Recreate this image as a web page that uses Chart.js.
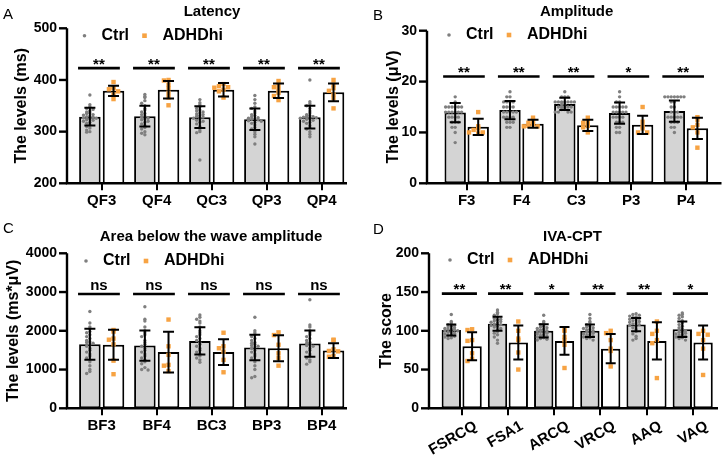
<!DOCTYPE html>
<html>
<head>
<meta charset="utf-8">
<script src="https://cdn.jsdelivr.net/npm/chart.js@4.4.1/dist/chart.umd.min.js"></script>
<style>
  body { margin: 0; background: #fff; width: 727px; height: 456px; position: relative; overflow: hidden;
         font-family: "Liberation Sans", Arial, sans-serif; }
  .panel { position: absolute; }
  .letter { position: absolute; font-size: 15px; line-height: 15px; color: #000; }
</style>
</head>
<body>
<div class="panel" style="left:0;top:0"><canvas id="chartA" width="360" height="225"></canvas></div>
<div class="panel" style="left:360px;top:0"><canvas id="chartB" width="367" height="225"></canvas></div>
<div class="panel" style="left:0;top:225px"><canvas id="chartC" width="360" height="231"></canvas></div>
<div class="panel" style="left:360px;top:225px"><canvas id="chartD" width="367" height="231"></canvas></div>
<div class="letter" style="left:3px;top:6px">A</div>
<div class="letter" style="left:373px;top:7px">B</div>
<div class="letter" style="left:3px;top:220px">C</div>
<div class="letter" style="left:373px;top:221px">D</div>
<script>
const groupNames = ['Ctrl', 'ADHDhi'];

// A - Latency (ms)
const latencyCats = ['QF3', 'QF4', 'QC3', 'QP3', 'QP4'];
const latencyCtrlMean = [329, 330, 328, 324, 328];
const latencyCtrlSd = [17, 20, 21, 21, 22];
const latencyAdhdMean = [379, 381, 381, 379, 376];
const latencyAdhdSd = [10, 17, 13, 14, 17];
const latencyCtrlPts = [
  [371, 352, 348, 345, 343, 340, 338, 336, 335, 333, 332, 330, 329, 328, 327, 326, 325, 323, 322, 320, 318, 316, 313, 310, 307, 303, 300, 299],
  [372, 368, 366, 360, 355, 350, 345, 342, 338, 335, 333, 330, 328, 326, 325, 323, 320, 318, 315, 312, 308, 305, 300, 297, 294],
  [362, 356, 352, 348, 345, 342, 340, 338, 336, 334, 333, 331, 330, 328, 326, 325, 322, 320, 318, 315, 310, 303, 300, 298, 245],
  [370, 362, 355, 348, 345, 340, 336, 333, 331, 329, 327, 326, 325, 324, 323, 321, 320, 318, 316, 313, 308, 305, 300, 295, 290, 276],
  [400, 358, 354, 350, 345, 340, 336, 333, 331, 330, 329, 328, 327, 326, 325, 324, 322, 320, 318, 316, 312, 308, 305, 300, 295, 290]
];
const latencyAdhdPts = [
  [396, 386, 384, 382, 378, 372, 363],
  [400, 399, 391, 384, 374, 366, 351],
  [392, 388, 386, 385, 381, 378, 366],
  [398, 390, 386, 382, 375, 369, 361],
  [400, 391, 384, 379, 372, 365, 345]
];
const latencySig = ['**', '**', '**', '**', '**'];

// B - Amplitude (uV)
const ampCats = ['F3', 'F4', 'C3', 'P3', 'P4'];
const ampCtrlMean = [13.9, 14.4, 15.6, 13.8, 14.2];
const ampCtrlSd = [1.9, 1.8, 1.2, 2.1, 2.1];
const ampAdhdMean = [11.1, 11.7, 11.4, 11.5, 10.8];
const ampAdhdSd = [1.6, 0.8, 1.1, 1.8, 2.1];
const ampCtrlPts = [
  [17, 16, 15, 15, 15, 15, 15, 15, 14, 14, 14, 14, 14, 14, 13, 13, 13, 13, 12, 12, 12, 11, 11, 10, 8],
  [18, 17, 17, 16, 16, 16, 16, 15, 15, 15, 15, 14, 14, 14, 14, 14, 13, 13, 13, 13, 12, 12, 12, 11, 11],
  [18, 17, 17, 17, 16, 16, 16, 16, 16, 16, 16, 15.5, 15.5, 15, 15, 15, 15, 15, 14.5, 14.5, 14, 14, 14, 14],
  [18, 17, 16, 16, 15, 15, 15, 15, 15, 14, 14, 14, 14, 14, 13, 13, 13, 13, 12, 12, 12, 11, 11, 10, 10],
  [17, 17, 17, 17, 17, 17, 17, 16, 16, 15, 15, 14, 14, 14, 13, 13, 13, 13, 13, 12, 12, 12, 11, 11, 10]
];
const ampAdhdPts = [
  [14, 11.2, 10.8, 10.5, 10, 10, 9.8],
  [12.9, 12.3, 11.9, 11.6, 11.3, 11.2, 11.2],
  [12.9, 12, 11.9, 11.3, 11, 10],
  [15, 12.1, 11.2, 10.8, 10, 10],
  [13, 12.5, 11.5, 11, 10, 7]
];
const ampSig = ['**', '**', '**', '*', '**'];

// C - Area below the wave amplitude (ms*uV)
const areaCats = ['BF3', 'BF4', 'BC3', 'BP3', 'BP4'];
const areaCtrlMean = [1650, 1620, 1740, 1570, 1670];
const areaCtrlSd = [400, 390, 350, 330, 340];
const areaAdhdMean = [1640, 1450, 1450, 1550, 1490];
const areaAdhdSd = [385, 525, 330, 335, 190];
const areaCtrlPts = [
  [2500, 2200, 2100, 2050, 1980, 1950, 1900, 1850, 1800, 1750, 1720, 1700, 1680, 1650, 1600, 1550, 1500, 1450, 1400, 1350, 1300, 1200, 1100, 1000, 950, 900],
  [2620, 2300, 2250, 2100, 2000, 1950, 1900, 1850, 1750, 1700, 1650, 1600, 1550, 1500, 1450, 1400, 1350, 1300, 1250, 1200, 1150, 1050, 1000, 990],
  [2410, 2350, 2300, 2250, 2200, 2100, 2000, 1950, 1900, 1850, 1800, 1750, 1700, 1650, 1600, 1550, 1500, 1450, 1400, 1350, 1300, 1250, 1190],
  [2350, 2000, 1950, 1900, 1850, 1800, 1750, 1700, 1680, 1650, 1620, 1600, 1580, 1550, 1500, 1450, 1400, 1350, 1300, 1200, 1100, 1000, 820, 790],
  [2800, 2150, 2100, 2000, 1950, 1900, 1850, 1800, 1750, 1700, 1680, 1650, 1620, 1600, 1550, 1500, 1450, 1400, 1350, 1300, 1250, 1200, 1140]
];
const areaAdhdPts = [
  [2020, 1980, 1800, 1770, 1650, 1230, 880],
  [2290, 1600, 1380, 1120, 1100, 960],
  [1950, 1600, 1550, 1460, 1250, 930],
  [1960, 1890, 1640, 1420, 1300, 1100],
  [1770, 1760, 1520, 1480, 1470, 1350, 1330]
];
const areaSig = ['ns', 'ns', 'ns', 'ns', 'ns'];

// D - IVA-CPT score
const ivaCats = ['FSRCQ', 'FSA1', 'ARCQ', 'VRCQ', 'AAQ', 'VAQ'];
const ivaCtrlMean = [101, 109, 100, 100, 108, 102];
const ivaCtrlSd = [7, 9, 8.5, 8, 8.5, 10];
const ivaAdhdMean = [80, 85, 87, 77, 87, 85];
const ivaAdhdSd = [18, 22, 18, 19, 24, 22];
const ivaCtrlPts = [
  [121, 112, 110, 108, 107, 106, 105, 104, 103, 102, 102, 101, 100, 100, 99, 98, 97, 96, 95, 94, 93, 92, 91, 90],
  [127, 124, 122, 120, 118, 116, 115, 114, 113, 112, 111, 110, 109, 108, 107, 106, 105, 103, 101, 99, 97, 95, 92, 88, 84],
  [120, 112, 110, 108, 106, 105, 104, 103, 102, 101, 100, 100, 99, 98, 97, 96, 95, 94, 93, 92, 91, 90, 89, 88],
  [121, 116, 112, 110, 108, 106, 105, 104, 103, 102, 101, 100, 99, 98, 97, 96, 95, 94, 93, 92, 91, 90, 88],
  [122, 121, 120, 119, 118, 117, 116, 115, 114, 113, 112, 111, 110, 109, 108, 107, 106, 104, 102, 99, 96, 93, 90, 88],
  [123, 121, 120, 118, 116, 113, 110, 108, 106, 104, 102, 101, 100, 99, 98, 97, 96, 95, 94, 93, 92, 91, 90, 88]
];
const ivaAdhdPts = [
  [102, 101, 88, 87, 71, 64, 61],
  [112, 100, 90, 88, 72, 50],
  [101, 100, 92, 88, 82, 52],
  [100, 97, 88, 77, 74, 54],
  [112, 100, 96, 88, 84, 39],
  [100, 96, 95, 88, 77, 43]
];
const ivaSig = ['**', '**', '*', '**', '**', '*'];

const FONT = '"Liberation Sans", Arial, sans-serif';
Chart.defaults.font.family = FONT;
Chart.defaults.color = '#000';

const PLOT_TOP = 28.3, PLOT_BOTTOM = 183.3;
const GRAY_DOT = '#7f7f7f', ORANGE = '#f7a343';

// side offsets (px) so that equal values don't overlap
function swarmOffsets(values, ys, stepPx, binPx, nSlots) {
  const seen = {};
  return values.map(v => {
    const b = Math.round(ys.getPixelForValue(v) / binPx);
    const c = seen[b] || 0;
    seen[b] = c + 1;
    const k = c % nSlots;
    return k === 0 ? 0 : (k % 2 ? -Math.ceil(k / 2) : Math.ceil(k / 2)) * stepPx;
  });
}

function makePanel(p) {
  const n = p.cats.length;
  const catW = (p.catRight - p.catLeft) / n;

  const decor = {
    id: 'decor',
    afterDatasetsDraw(chart) {
      const ctx = chart.ctx, xs = chart.scales.x, ys = chart.scales.y, area = chart.chartArea;
      ctx.save();

      // individual values
      const shift = catW * p.catPct / 4;
      p.ctrlPts.forEach((vals, i) => {
        const cx = xs.getPixelForValue(i) - shift;
        const offs = swarmOffsets(vals, ys, 3.2, 3, 7);
        ctx.fillStyle = GRAY_DOT;
        vals.forEach((v, k) => {
          ctx.beginPath();
          ctx.arc(cx + offs[k], ys.getPixelForValue(v), 1.7, 0, Math.PI * 2);
          ctx.fill();
        });
      });
      p.adhdPts.forEach((vals, i) => {
        const cx = xs.getPixelForValue(i) + shift;
        const offs = swarmOffsets(vals, ys, 4.6, 4.5, 5);
        ctx.fillStyle = ORANGE;
        vals.forEach((v, k) => {
          ctx.fillRect(cx + offs[k] - 2.2, ys.getPixelForValue(v) - 2.2, 4.4, 4.4);
        });
      });

      ctx.strokeStyle = '#000';
      ctx.fillStyle = '#000';

      // error bars (mean +/- SD)
      ctx.lineWidth = 2;
      [[0, p.ctrlMean, p.ctrlSd], [1, p.adhdMean, p.adhdSd]].forEach(([di, m, s]) => {
        chart.getDatasetMeta(di).data.forEach((bar, i) => {
          const t = ys.getPixelForValue(m[i] + s[i]);
          const b = ys.getPixelForValue(m[i] - s[i]);
          ctx.beginPath();
          ctx.moveTo(bar.x, t); ctx.lineTo(bar.x, b);
          ctx.moveTo(bar.x - p.cap, t); ctx.lineTo(bar.x + p.cap, t);
          ctx.moveTo(bar.x - p.cap, b); ctx.lineTo(bar.x + p.cap, b);
          ctx.stroke();
        });
      });

      // axes
      ctx.lineWidth = 2.4;
      ctx.beginPath();
      ctx.moveTo(p.axisX, area.top);
      ctx.lineTo(p.axisX, area.bottom);
      ctx.lineTo(p.axisEnd, area.bottom);
      ctx.stroke();
      ys.ticks.forEach(t => {
        const py = ys.getPixelForValue(t.value);
        ctx.beginPath();
        ctx.moveTo(p.axisX - 8, py); ctx.lineTo(p.axisX, py);
        ctx.stroke();
      });

      // significance lines
      const sigPx = ys.getPixelForValue(p.sigY);
      ctx.lineWidth = 2.6;
      ctx.textAlign = 'center';
      ctx.textBaseline = 'alphabetic';
      ctx.font = 'bold 15px ' + FONT;
      p.sig.forEach((s, i) => {
        const c = xs.getPixelForValue(i) - 0.05 * catW;
        const hw = 0.38 * catW;
        ctx.beginPath();
        ctx.moveTo(c - hw, sigPx); ctx.lineTo(c + hw, sigPx);
        ctx.stroke();
        ctx.fillText(s, c, sigPx + (s === 'ns' ? -4 : 0.5));
      });

      // title
      ctx.font = 'bold 15px ' + FONT;
      ctx.fillText(p.title, p.titleX, 15.5);

      // y axis title
      ctx.save();
      ctx.translate(p.yTitleX, (area.top + area.bottom) / 2);
      ctx.rotate(-Math.PI / 2);
      ctx.textBaseline = 'middle';
      ctx.font = 'bold 16px ' + FONT;
      ctx.fillText(p.yTitle, 0, 0);
      ctx.restore();

      // legend
      const lx = p.legendX, ly = p.legendY;
      ctx.fillStyle = GRAY_DOT;
      ctx.beginPath(); ctx.arc(lx, ly, 1.8, 0, Math.PI * 2); ctx.fill();
      ctx.fillStyle = ORANGE;
      ctx.fillRect(lx + 60 - 2.3, ly - 2.3, 4.6, 4.6);
      ctx.fillStyle = '#000';
      ctx.textAlign = 'left';
      ctx.textBaseline = 'middle';
      ctx.font = 'bold 16px ' + FONT;
      ctx.fillText(groupNames[0], lx + 17, ly);
      ctx.fillText(groupNames[1], lx + 78, ly);
      ctx.restore();
    }
  };

  const barStyle = { borderColor: '#000', borderWidth: 2, borderSkipped: false,
    categoryPercentage: p.catPct, barPercentage: p.barPct };

  new Chart(document.getElementById(p.id), {
    type: 'bar',
    data: {
      labels: p.cats,
      datasets: [
        Object.assign({ label: groupNames[0], data: p.ctrlMean, backgroundColor: '#d4d4d4' }, barStyle),
        Object.assign({ label: groupNames[1], data: p.adhdMean, backgroundColor: '#ffffff' }, barStyle)
      ]
    },
    options: {
      responsive: false,
      animation: false,
      events: [],
      layout: { padding: { left: 0, right: p.w - p.catRight, top: PLOT_TOP, bottom: 0 } },
      plugins: { legend: { display: false }, title: { display: false }, tooltip: { enabled: false } },
      scales: {
        x: {
          offset: true,
          grid: { display: true, drawOnChartArea: false, drawTicks: true, tickLength: 7,
                  color: '#000', lineWidth: 2, offset: false },
          border: { display: false },
          ticks: { font: { size: 15, weight: 'bold' }, padding: 2, autoSkip: false,
                   minRotation: p.rot, maxRotation: p.rot, labelOffset: p.labelOffset },
          afterFit(s) { s.height = p.h - PLOT_BOTTOM; }
        },
        y: {
          min: p.yMin, max: p.yMax,
          grid: { display: false, drawTicks: false },
          border: { display: false },
          ticks: { stepSize: p.yStep, font: { size: 14, weight: 'bold' },
                   padding: p.catLeft - p.axisX + 10, callback: v => String(v) },
          afterFit(s) { s.width = p.catLeft; }
        }
      }
    },
    plugins: [decor]
  });
}

makePanel({ id: 'chartA', w: 360, h: 225, cats: latencyCats,
  ctrlMean: latencyCtrlMean, ctrlSd: latencyCtrlSd, adhdMean: latencyAdhdMean, adhdSd: latencyAdhdSd,
  ctrlPts: latencyCtrlPts, adhdPts: latencyAdhdPts, sig: latencySig, sigY: 423,
  yMin: 200, yMax: 500, yStep: 100, title: 'Latency', yTitle: 'The levels (ms)',
  axisX: 67, catLeft: 74.2, catRight: 349.2, axisEnd: 347, titleX: 212, yTitleX: 21.5,
  legendX: 84.5, legendY: 35.7, catPct: 0.86, barPct: 0.91, cap: 5.5, rot: 0, labelOffset: 0 });

makePanel({ id: 'chartB', w: 367, h: 225, cats: ampCats,
  ctrlMean: ampCtrlMean, ctrlSd: ampCtrlSd, adhdMean: ampAdhdMean, adhdSd: ampAdhdSd,
  ctrlPts: ampCtrlPts, adhdPts: ampAdhdPts, sig: ampSig, sigY: 21,
  yMin: 0, yMax: 30, yStep: 10, title: 'Amplitude', yTitle: 'The levels (\u03bcV)',
  axisX: 67, catLeft: 79.3, catRight: 353.3, axisEnd: 361.5, titleX: 216.7, yTitleX: 34,
  legendX: 89, legendY: 35, catPct: 0.84, barPct: 0.93, cap: 5.5, rot: 0, labelOffset: 0 });

makePanel({ id: 'chartC', w: 360, h: 231, cats: areaCats,
  ctrlMean: areaCtrlMean, ctrlSd: areaCtrlSd, adhdMean: areaAdhdMean, adhdSd: areaAdhdSd,
  ctrlPts: areaCtrlPts, adhdPts: areaAdhdPts, sig: areaSig, sigY: 2950,
  yMin: 0, yMax: 4000, yStep: 1000, title: 'Area below the wave amplitude', yTitle: 'The levels (ms*\u03bcV)',
  axisX: 67, catLeft: 74.2, catRight: 349.2, axisEnd: 347, titleX: 211, yTitleX: 13.5,
  legendX: 86, legendY: 36, catPct: 0.86, barPct: 0.91, cap: 5.5, rot: 0, labelOffset: 0 });

makePanel({ id: 'chartD', w: 367, h: 231, cats: ivaCats,
  ctrlMean: ivaCtrlMean, ctrlSd: ivaCtrlSd, adhdMean: ivaAdhdMean, adhdSd: ivaAdhdSd,
  ctrlPts: ivaCtrlPts, adhdPts: ivaAdhdPts, sig: ivaSig, sigY: 148,
  yMin: 0, yMax: 200, yStep: 50, title: 'IVA-CPT', yTitle: 'The score',
  axisX: 69, catLeft: 78.6, catRight: 355.8, axisEnd: 358, titleX: 212.5, yTitleX: 27,
  legendX: 90, legendY: 35, catPct: 0.9, barPct: 0.93, cap: 5, rot: 30, labelOffset: 14 });
</script>
</body>
</html>
